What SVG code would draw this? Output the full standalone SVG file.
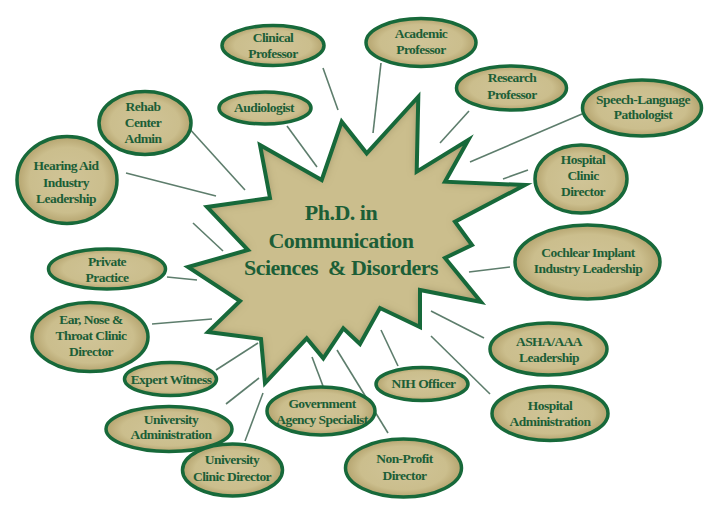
<svg xmlns="http://www.w3.org/2000/svg" width="720" height="515" viewBox="0 0 720 515">
<style>
.node ellipse{fill:url(#tan);stroke:#17693a;stroke-width:3.5}
.node text{font-family:"Liberation Serif","Times New Roman",serif;font-weight:bold;font-size:13.5px;letter-spacing:-0.55px;fill:#1c5e37;text-anchor:middle}
.conn line{stroke:#5d7d6c;stroke-width:1.6}
.title{font-family:"Liberation Serif","Times New Roman",serif;font-weight:bold;font-size:22px;letter-spacing:-0.5px;fill:#1c5e37;text-anchor:middle}
</style>
<defs>
<radialGradient id="tan" cx="50%" cy="50%" r="50%">
<stop offset="0" stop-color="#d0c497"/>
<stop offset="0.75" stop-color="#cbbe8d"/>
<stop offset="1" stop-color="#b5a46f"/>
</radialGradient>
<filter id="inset" x="-10%" y="-10%" width="120%" height="120%">
<feFlood flood-color="#6e5f2e" flood-opacity="0.75" result="c"/>
<feComposite in="c" in2="SourceAlpha" operator="out" result="inv"/>
<feGaussianBlur in="inv" stdDeviation="5" result="b"/>
<feComposite in="b" in2="SourceAlpha" operator="in" result="s"/>
<feMerge><feMergeNode in="SourceGraphic"/><feMergeNode in="s"/></feMerge>
</filter>
</defs>
<rect width="720" height="515" fill="#ffffff"/>
<g id="connectors" class="conn">
<line x1="323" y1="68" x2="338" y2="110"/>
<line x1="187" y1="126" x2="245" y2="190"/>
<line x1="287" y1="126" x2="317" y2="167"/>
<line x1="126" y1="173" x2="216" y2="196"/>
<line x1="193" y1="223" x2="223" y2="251"/>
<line x1="381" y1="63" x2="373" y2="133"/>
<line x1="469" y1="111" x2="440" y2="143"/>
<line x1="582" y1="114" x2="470" y2="162"/>
<line x1="528" y1="170" x2="503" y2="179"/>
<line x1="167" y1="277" x2="197" y2="280"/>
<line x1="152" y1="324" x2="212" y2="319"/>
<line x1="216" y1="370" x2="258" y2="343"/>
<line x1="226" y1="404" x2="259" y2="378"/>
<line x1="245" y1="441" x2="263" y2="393"/>
<line x1="312" y1="357" x2="323" y2="386"/>
<line x1="337" y1="350" x2="388" y2="433"/>
<line x1="469" y1="272" x2="510" y2="267"/>
<line x1="431" y1="311" x2="484" y2="338"/>
<line x1="381" y1="330" x2="398" y2="366"/>
<line x1="431" y1="336" x2="490" y2="394"/>
</g>
<g id="center">
<polygon points="260,145 321.7,180 341.7,121.7 366.7,153.3 418.3,96.7 416.7,171.7 468.3,140 445,181.7 525,185 455,221.7 472,245 445,258 481,302 420,290 420,327 380,308 360,344 343.3,328.3 323.3,358.3 306.7,338.3 265,383 261,339 208,332 240,301 188,267 248,250 207,207 270,198" fill="#cbbe8d" filter="url(#inset)"/>
<polygon points="260,145 321.7,180 341.7,121.7 366.7,153.3 418.3,96.7 416.7,171.7 468.3,140 445,181.7 525,185 455,221.7 472,245 445,258 481,302 420,290 420,327 380,308 360,344 343.3,328.3 323.3,358.3 306.7,338.3 265,383 261,339 208,332 240,301 188,267 248,250 207,207 270,198" fill="none" stroke="#17693a" stroke-width="4" stroke-linejoin="miter"/>
<text class="title" x="341" y="220">Ph.D. in</text>
<text class="title" x="341" y="248">Communication</text>
<text class="title" x="341" y="275">Sciences &#160;&amp; Disorders</text>
</g>
<g id="clinical-professor" class="node"><ellipse cx="273" cy="45.5" rx="51" ry="20"/><text x="273" y="41.5">Clinical</text><text x="273" y="57.5">Professor</text></g>
<g id="audiologist" class="node"><ellipse cx="265" cy="108" rx="46" ry="16"/><text x="264" y="111.5">Audiologist</text></g>
<g id="rehab" class="node"><ellipse cx="145" cy="123" rx="46" ry="31.5"/><text x="143" y="111">Rehab</text><text x="143" y="127">Center</text><text x="143" y="143">Admin</text></g>
<g id="hearing-aid" class="node"><ellipse cx="67" cy="180" rx="50" ry="43.5"/><text x="66" y="170">Hearing Aid</text><text x="66" y="186.5">Industry</text><text x="66" y="203">Leadership</text></g>
<g id="academic-professor" class="node"><ellipse cx="421" cy="42.5" rx="55" ry="24"/><text x="421" y="37.5">Academic</text><text x="421" y="54">Professor</text></g>
<g id="research-professor" class="node"><ellipse cx="511.5" cy="88" rx="55" ry="22"/><text x="512" y="82">Research</text><text x="512" y="98.5">Professor</text></g>
<g id="slp" class="node"><ellipse cx="642" cy="108" rx="59.5" ry="28"/><text x="643" y="103.5">Speech-Language</text><text x="643" y="119">Pathologist</text></g>
<g id="hospital-clinic" class="node"><ellipse cx="581" cy="179" rx="46" ry="34"/><text x="583" y="163.5">Hospital</text><text x="583" y="180">Clinic</text><text x="583" y="196">Director</text></g>
<g id="cochlear" class="node"><ellipse cx="587.5" cy="262" rx="72.5" ry="37"/><text x="588" y="257">Cochlear Implant</text><text x="588" y="273">Industry Leadership</text></g>
<g id="asha" class="node"><ellipse cx="548.5" cy="349" rx="58.5" ry="26"/><text x="549" y="346">ASHA/AAA</text><text x="549" y="362">Leadership</text></g>
<g id="hospital-admin" class="node"><ellipse cx="550" cy="413.5" rx="58" ry="27"/><text x="550" y="410">Hospital</text><text x="550" y="426">Administration</text></g>
<g id="nih" class="node"><ellipse cx="422" cy="384" rx="46" ry="16.5"/><text x="423.5" y="387.5">NIH Officer</text></g>
<g id="non-profit" class="node"><ellipse cx="403.5" cy="468" rx="58" ry="29"/><text x="404.5" y="463">Non-Profit</text><text x="404.5" y="479.5">Director</text></g>
<g id="government" class="node"><ellipse cx="321" cy="411" rx="54" ry="24"/><text x="322" y="407.5">Government</text><text x="322" y="424">Agency Specialist</text></g>
<g id="private-practice" class="node"><ellipse cx="107" cy="269" rx="58.5" ry="20"/><text x="107" y="266">Private</text><text x="107" y="282">Practice</text></g>
<g id="ent" class="node"><ellipse cx="90" cy="337" rx="58" ry="34.5"/><text x="91" y="324">Ear, Nose &amp;</text><text x="91" y="340">Throat Clinic</text><text x="91" y="356">Director</text></g>
<g id="expert-witness" class="node"><ellipse cx="170.5" cy="379" rx="46" ry="16.5"/><text x="171" y="384">Expert Witness</text></g>
<g id="university-admin" class="node"><ellipse cx="169" cy="429" rx="63" ry="22.5"/><text x="171" y="423.5">University</text><text x="171" y="438.5">Administration</text></g>
<g id="university-clinic" class="node"><ellipse cx="232.5" cy="470" rx="50" ry="26"/><text x="232" y="464">University</text><text x="232" y="481">Clinic Director</text></g>
</svg>
